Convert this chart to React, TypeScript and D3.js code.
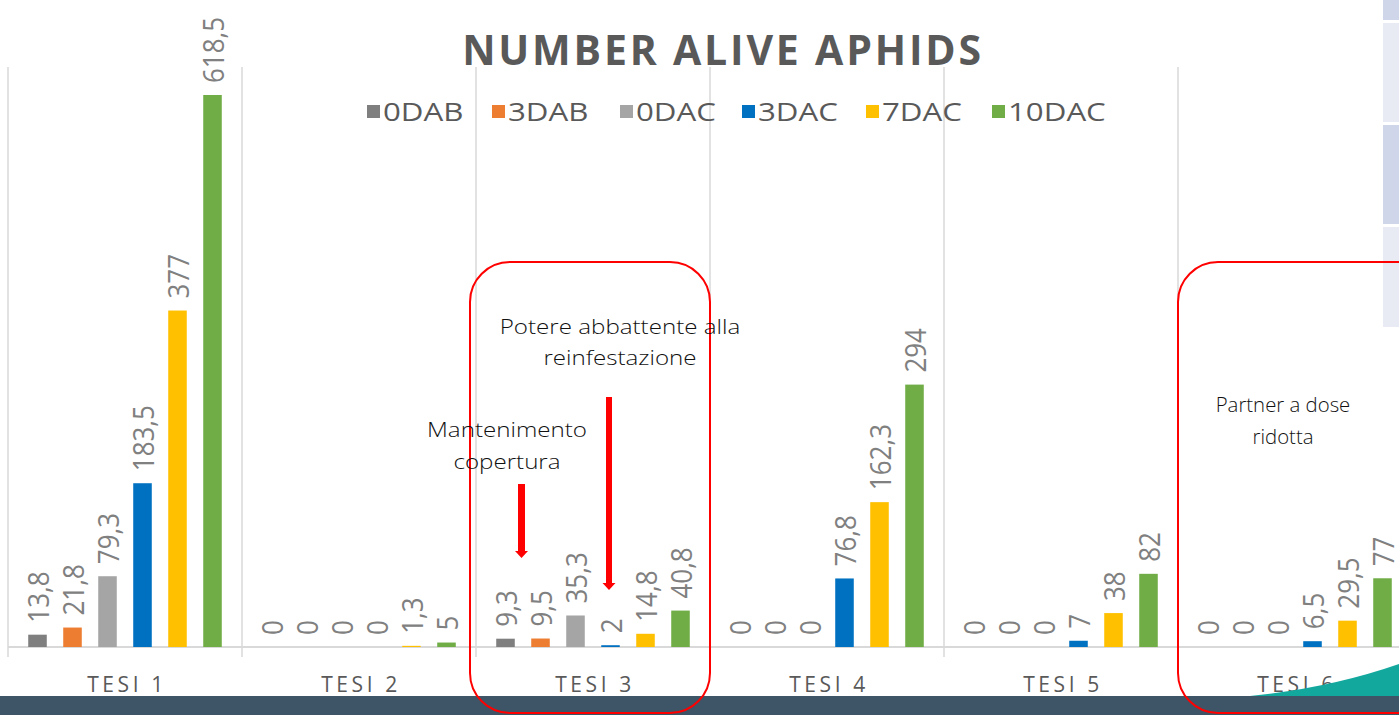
import React from "react";
import * as d3 from "d3";

const categories = ["TESI 1", "TESI 2", "TESI 3", "TESI 4", "TESI 5", "TESI 6"];
const seriesNames = ["0DAB", "3DAB", "0DAC", "3DAC", "7DAC", "10DAC"];
const seriesColors = ["#7f7f7f", "#ed7d31", "#a5a5a5", "#0070c0", "#ffc000", "#70ad47"];
const values0DAB = [13.8, 0, 9.3, 0, 0, 0];
const values3DAB = [21.8, 0, 9.5, 0, 0, 0];
const values0DAC = [79.3, 0, 35.3, 0, 0, 0];
const values3DAC = [183.5, 0, 2, 76.8, 7, 6.5];
const values7DAC = [377, 1.3, 14.8, 162.3, 38, 29.5];
const values10DAC = [618.5, 5, 40.8, 294, 82, 77];
const seriesValues = [values0DAB, values3DAB, values0DAC, values3DAC, values7DAC, values10DAC];

const W = 1399;
const H = 715;
const baseY = 647;
const FONT = "'Open Sans', 'Liberation Sans', sans-serif";

const fmt = (v: number) => String(v).replace(".", ",");

export default function App() {
  const x = d3.scaleBand<string>().domain(categories).range([8, 8 + 234 * 6]).padding(0);
  const y = d3.scaleLinear().domain([0, 700]).range([baseY, baseY - 624.75]);
  const inner = d3
    .scaleBand<string>()
    .domain(seriesNames)
    .range([-105, 105])
    .paddingInner(0.47)
    .paddingOuter(0.235);

  const legendX = [367, 492, 620, 742, 866, 992];

  const ann = (tx: number, ty: number, s: string, sx = 1.15) => (
    <text transform={`translate(${tx},${ty}) scale(${sx},1)`} textAnchor="middle">
      {s}
    </text>
  );

  return (
    <svg
      width={W}
      height={H}
      style={{ position: "absolute", left: 0, top: 0, background: "#fff" }}
      fontFamily={FONT}
    >
      <rect x={0} y={0} width={W} height={H} fill="#ffffff" />
      {/* right side panels */}
      <rect x={1383} y={0} width={16} height={20} fill="#d0d6ea" />
      <rect x={1383} y={23} width={16} height={99} fill="#e8eaf4" />
      <rect x={1383} y={125} width={16} height={99} fill="#d0d6ea" />
      <rect x={1383} y={227} width={16} height={100} fill="#e8eaf4" />

      {/* gridlines */}
      {categories.map((c) => (
        <line key={"g" + c} x1={x(c)!} x2={x(c)!} y1={67} y2={657} stroke="#d9d9d9" strokeWidth={1.5} />
      ))}
      <line x1={8} x2={W} y1={baseY} y2={baseY} stroke="#d9d9d9" strokeWidth={2} />

      {/* bars */}
      {categories.map((c, ci) => {
        const cx = x(c)! + x.bandwidth() / 2;
        return (
          <g key={"c" + c}>
            {seriesNames.map((s, si) => {
              const v = seriesValues[si][ci];
              const bx = cx + inner(s)!;
              const bw = inner.bandwidth();
              const top = y(v);
              const lx = bx + bw / 2;
              const ly = top - 12;
              return (
                <g key={s}>
                  {v > 0 && (
                    <rect x={bx} y={top} width={bw} height={baseY - top} fill={seriesColors[si]} />
                  )}
                  <text
                    transform={`translate(${lx},${ly}) scale(1.15,1) rotate(-90)`}
                    textAnchor="start"
                    dominantBaseline="central"
                    fontSize={26}
                    fill="#808080"
                  >
                    {fmt(v)}
                  </text>
                </g>
              );
            })}
            <text
              x={cx + 2}
              y={692}
              textAnchor="middle"
              fontSize={21}
              letterSpacing={3.6}
              fill="#595959"
            >
              {c}
            </text>
          </g>
        );
      })}

      {/* title */}
      <text x={723} y={65} textAnchor="middle" fontSize={41} fontWeight="bold" letterSpacing={2.8} fill="#595959">
        NUMBER ALIVE APHIDS
      </text>

      {/* legend */}
      {seriesNames.map((s, i) => (
        <g key={"l" + s}>
          <rect x={legendX[i]} y={105} width={13} height={13} fill={seriesColors[i]} />
          <text transform={`translate(${legendX[i] + 16},121) scale(1.25,1)`} fontSize={25} fill="#595959">
            {s}
          </text>
        </g>
      ))}

      {/* bottom band */}
      <rect x={0} y={696} width={W} height={19} fill="#3d5566" />
      <path d="M1250,696 Q1330,688 1399,664 L1399,696 Z" fill="#13a89e" />

      {/* annotations */}
      <rect x={470} y={262} width={240} height={451} rx={40} ry={40} fill="none" stroke="#ff0000" strokeWidth={2} />
      <rect x={1178} y={262} width={260} height={451} rx={40} ry={40} fill="none" stroke="#ff0000" strokeWidth={2} />

      <g fontSize={21} fontWeight={300} fill="#111111">
        {ann(620, 334, "Potere abbattente alla")}
        {ann(620, 365, "reinfestazione")}
        {ann(507, 437, "Mantenimento")}
        {ann(507, 469, "copertura")}
        {ann(1283, 412, "Partner a dose", 0.97)}
        {ann(1283, 444, "ridotta", 0.97)}
      </g>

      {/* arrows */}
      <rect x={518} y={484} width={7} height={68} fill="#ff0000" />
      <path d="M515,551 L528,551 L521.5,558 Z" fill="#ff0000" />
      <rect x={606} y={397} width={6} height={187} fill="#ff0000" />
      <path d="M602.5,583 L615.5,583 L609,590 Z" fill="#ff0000" />
    </svg>
  );
}
